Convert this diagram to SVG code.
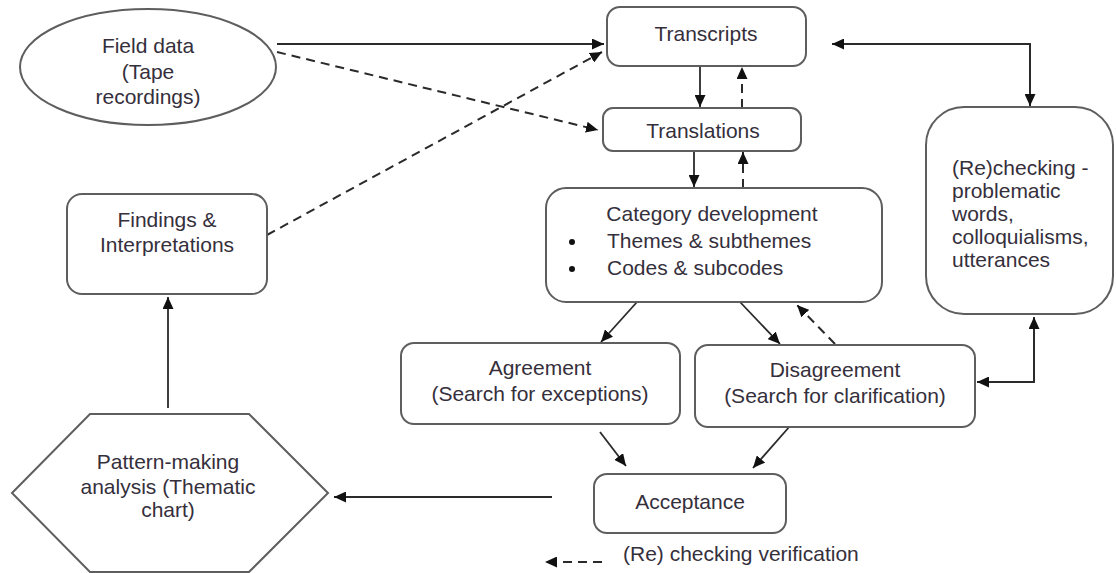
<svg xmlns="http://www.w3.org/2000/svg" width="1116" height="573" viewBox="0 0 1116 573">
<defs>
<style>
.box{fill:#fff;stroke:#5e5e5e;stroke-width:2}
.t{font-family:"Liberation Sans",Arial,sans-serif;font-size:21px;fill:#352f3c;text-anchor:middle}
.tl{font-family:"Liberation Sans",Arial,sans-serif;font-size:21px;fill:#352f3c;text-anchor:start}
.c{fill:none;stroke:#2a2a2a;stroke-width:1.8}
.d{fill:none;stroke:#2a2a2a;stroke-width:2;stroke-dasharray:9 6}
</style>
<marker id="ah" markerUnits="userSpaceOnUse" markerWidth="13" markerHeight="11" refX="12" refY="5.5" orient="auto">
<path d="M0,0 L12,5.5 L0,11 z" fill="#111"/>
</marker>
</defs>
<rect width="1116" height="573" fill="#fff"/>

<g id="connectors">
<line class="c" x1="277" y1="44" x2="604" y2="44" marker-end="url(#ah)"/>
<line class="d" x1="277" y1="52" x2="598" y2="130" marker-end="url(#ah)"/>
<line class="d" x1="267" y1="235" x2="602" y2="52" marker-end="url(#ah)"/>
<line class="c" x1="700" y1="66" x2="700" y2="107" marker-end="url(#ah)"/>
<line class="d" x1="742" y1="108" x2="742" y2="67" marker-end="url(#ah)"/>
<line class="c" x1="694" y1="151" x2="694" y2="187" marker-end="url(#ah)"/>
<line class="d" x1="743" y1="188" x2="743" y2="152" marker-end="url(#ah)"/>
<line class="c" x1="637" y1="302" x2="601" y2="342" marker-end="url(#ah)"/>
<line class="c" x1="740" y1="302" x2="780" y2="344" marker-end="url(#ah)"/>
<line class="d" x1="835" y1="344" x2="797" y2="305" marker-end="url(#ah)"/>
<line class="c" x1="600" y1="432" x2="626" y2="466" marker-end="url(#ah)"/>
<line class="c" x1="790" y1="426" x2="753" y2="468" marker-end="url(#ah)"/>
<line class="c" x1="552" y1="497" x2="334" y2="497" marker-end="url(#ah)"/>
<line class="c" x1="168" y1="408" x2="168" y2="297" marker-end="url(#ah)"/>
<polyline class="c" points="1030,106 1030,44 832,44" marker-end="url(#ah)"/>
<line class="c" x1="1030" y1="44" x2="1030" y2="106" marker-end="url(#ah)"/>
<polyline class="c" points="1034,318 1034,382 977,382" marker-end="url(#ah)"/>
<line class="c" x1="1034" y1="382" x2="1034" y2="317" marker-end="url(#ah)"/>
<line class="d" x1="602" y1="562" x2="545" y2="562" marker-end="url(#ah)"/>
</g>

<g id="field-data">
<ellipse class="box" cx="148" cy="67" rx="128" ry="58"/>
<text class="t" x="148" y="53">Field data</text>
<text class="t" x="148" y="79">(Tape</text>
<text class="t" x="148" y="104">recordings)</text>
</g>

<g id="transcripts">
<rect class="box" x="607" y="7" width="199" height="59" rx="13"/>
<text class="t" x="706" y="41">Transcripts</text>
</g>

<g id="translations">
<rect class="box" x="603" y="108" width="198" height="43" rx="10"/>
<text class="t" x="703" y="138">Translations</text>
</g>

<g id="category">
<rect class="box" x="546" y="188" width="336" height="114" rx="20"/>
<text class="t" x="712" y="221">Category development</text>
<circle cx="572" cy="242" r="3" fill="#111"/>
<circle cx="572" cy="269" r="3" fill="#111"/>
<text class="tl" x="607" y="248">Themes &amp; subthemes</text>
<text class="tl" x="607" y="275">Codes &amp; subcodes</text>
</g>

<g id="rechecking">
<rect class="box" x="926" y="107" width="187" height="207" rx="38"/>
<text class="tl" x="952" y="175">(Re)checking -</text>
<text class="tl" x="952" y="198">problematic</text>
<text class="tl" x="952" y="221">words,</text>
<text class="tl" x="952" y="244">colloquialisms,</text>
<text class="tl" x="952" y="267">utterances</text>
</g>

<g id="agreement">
<rect class="box" x="401" y="343" width="279" height="81" rx="13"/>
<text class="t" x="540" y="375">Agreement</text>
<text class="t" x="540" y="401">(Search for exceptions)</text>
</g>

<g id="disagreement">
<rect class="box" x="695" y="345" width="280" height="82" rx="13"/>
<text class="t" x="835" y="377">Disagreement</text>
<text class="t" x="835" y="403">(Search for clarification)</text>
</g>

<g id="acceptance">
<rect class="box" x="594" y="474" width="192" height="59" rx="13"/>
<text class="t" x="690" y="509">Acceptance</text>
</g>

<g id="findings">
<rect class="box" x="67" y="194" width="200" height="100" rx="15"/>
<text class="t" x="167" y="227">Findings &amp;</text>
<text class="t" x="167" y="252">Interpretations</text>
</g>

<g id="pattern-making">
<polygon class="box" points="12,493 90,414 249,414 328,493 249,572 90,572"/>
<text class="t" x="168" y="469">Pattern-making</text>
<text class="t" x="168" y="494">analysis (Thematic</text>
<text class="t" x="168" y="517">chart)</text>
</g>

<g id="legend">
<text class="tl" x="623" y="561">(Re) checking verification</text>
</g>
</svg>
